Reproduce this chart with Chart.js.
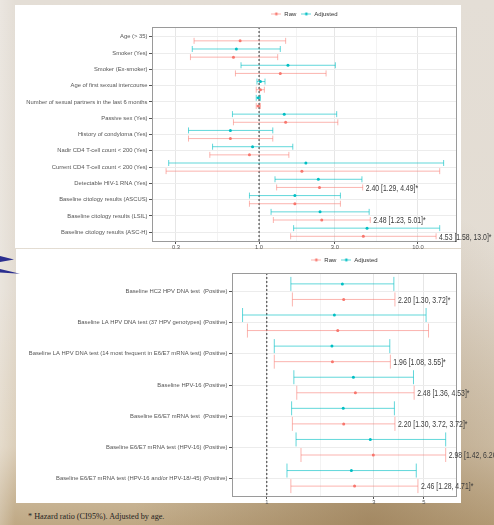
<!DOCTYPE html>
<html><head><meta charset="utf-8">
<script src="https://cdn.jsdelivr.net/npm/chart.js@4/dist/chart.umd.min.js"></script>
<style>
html,body{margin:0;padding:0;}
body{width:494px;height:525px;position:relative;overflow:hidden;
 background:
  radial-gradient(ellipse at 75% 100%, rgba(140,110,70,0.55), rgba(140,110,70,0) 45%),
  linear-gradient(90deg, rgba(255,255,255,0.25) 0px, rgba(255,255,255,0) 15px),
  linear-gradient(180deg, #e4ded6 0%, #e3dcd2 55%, #dccfba 85%, #bfa884 100%);}
.panel{position:absolute;background:#fff;}
#p1{left:15px;top:5px;width:446px;height:243px;}
#p2{left:16px;top:249px;width:445px;height:254px;}
.wrap{position:absolute;}
#w1{left:15px;top:6px;}
#w2{left:16px;top:252px;}
canvas{display:block;}
#foot{position:absolute;left:28px;top:512px;font:8.2px "Liberation Serif","Times New Roman",serif;color:#222;white-space:nowrap;}
.chev{position:absolute;background:#2b2f8f;}
#ch1{left:0;top:256px;width:14px;height:6px;clip-path:polygon(0 0,100% 60%,0 100%);}
#ch2{left:0;top:269px;width:20px;height:6px;clip-path:polygon(0 0,100% 80%,0 60%);}
</style></head>
<body>
<div class="panel" id="p1"></div>
<div class="panel" id="p2"></div>
<div class="chev" id="ch1"></div>
<div class="chev" id="ch2"></div>
<div class="wrap" id="w1"><canvas id="c1" width="479" height="246"></canvas></div>
<div class="wrap" id="w2"><canvas id="c2" width="478" height="254"></canvas></div>
<div id="foot">* Hazard ratio (CI95%). Adjusted by age.</div>
<script>
// ---------- data: top panel ----------
const topCategories = [
  'Age (> 35)',
  'Smoker (Yes)',
  'Smoker (Ex-smoker)',
  'Age of first sexual intercourse',
  'Number of sexual partners in the last 6 months',
  'Passive sex (Yes)',
  'History of condyloma (Yes)',
  'Nadir CD4 T-cell count < 200 (Yes)',
  'Current CD4 T-cell count < 200 (Yes)',
  'Detectable HIV-1 RNA (Yes)',
  'Baseline citology results (ASCUS)',
  'Baseline citology results (LSIL)',
  'Baseline citology results (ASC-H)'
];
const topRawEst  = [0.76, 0.69, 1.36, 1.02, 0.99, 1.47, 0.66, 0.87, 1.86, 2.40, 1.68, 2.48, 4.53];
const topRawLow  = [0.39, 0.37, 0.71, 0.96, 0.96, 0.69, 0.36, 0.49, 0.26, 1.29, 0.87, 1.23, 1.58];
const topRawHigh = [1.47, 1.31, 2.64, 1.08, 1.02, 3.13, 1.22, 1.54, 13.7, 4.49, 3.25, 5.01, 13.0];
const topAdjEst  = [null, 0.72, 1.52, 1.02, 0.99, 1.44, 0.66, 0.91, 1.97, 2.36, 1.68, 2.42, 4.78];
const topAdjLow  = [null, 0.38, 0.77, 0.97, 0.96, 0.68, 0.36, 0.51, 0.27, 1.26, 0.87, 1.19, 1.65];
const topAdjHigh = [null, 1.36, 3.02, 1.09, 1.02, 3.08, 1.22, 1.63, 14.5, 4.44, 3.25, 4.93, 13.7];
const topNotes = ['', '', '', '', '', '', '', '', '', '2.40 [1.29, 4.49]*', '', '2.48 [1.23, 5.01]*', '4.53 [1.58, 13.0]*'];
const topTickValues = [0.3, 1, 3, 10];
const topTickLabels = ['0.3', '1.0', '3.0', '10.0'];
const topMinorValues = [0.548, 1.732, 5.477];
const topRange = [0.212, 17.6];

// ---------- data: bottom panel ----------
const botCategories = [
  'Baseline HC2 HPV DNA test  (Positive)',
  'Baseline LA HPV DNA test (37 HPV genotypes) (Positive)',
  'Baseline LA HPV DNA test (14 most frequent in E6/E7 mRNA test) (Positive)',
  'Baseline HPV-16 (Positive)',
  'Baseline E6/E7 mRNA test  (Positive)',
  'Baseline E6/E7 mRNA test (HPV-16) (Positive)',
  'Baseline E6/E7 mRNA test (HPV-16 and/or HPV-18/-45) (Positive)'
];
const botRawEst  = [2.20, 2.07, 1.96, 2.48, 2.20, 2.98, 2.46];
const botRawLow  = [1.30, 0.82, 1.08, 1.36, 1.30, 1.42, 1.28];
const botRawHigh = [3.72, 5.25, 3.55, 4.53, 3.72, 6.26, 4.71];
const botAdjEst  = [2.17, 2.00, 1.95, 2.43, 2.19, 2.89, 2.38];
const botAdjLow  = [1.28, 0.78, 1.08, 1.32, 1.29, 1.35, 1.23];
const botAdjHigh = [3.68, 5.12, 3.53, 4.50, 3.70, 6.26, 4.63];
const botNotes = ['2.20 [1.30, 3.72]*', '', '1.96 [1.08, 3.55]*', '2.48 [1.36, 4.53]*', '2.20 [1.30, 3.72, 3.72]*', '2.98 [1.42, 6.26]*', '2.46 [1.28, 4.71]*'];
const botTickValues = [1, 3, 5];
const botTickLabels = ['1', '3', '5'];
const botMinorValues = [1.732, 3.873];
const botRange = [0.728, 7.03];

const refValue = 1;
const seriesNames = ['Raw', 'Adjusted'];

// ---------- styles ----------
const RED = '#F8766D', TEAL = '#00BFC4';
const RED_L = 'rgba(248,118,109,0.55)', TEAL_L = 'rgba(0,191,196,0.62)';
const OFF = 0.25;
Chart.defaults.font.family = '"Liberation Sans", Arial, sans-serif';
Chart.defaults.animation = false;

function legendIcon(lineCol, ptCol){
  const c = document.createElement('canvas'); c.width = 10; c.height = 5;
  const g = c.getContext('2d');
  g.strokeStyle = lineCol; g.lineWidth = 1;
  g.beginPath(); g.moveTo(0, 2.5); g.lineTo(10, 2.5); g.stroke();
  g.fillStyle = ptCol; g.beginPath(); g.arc(5, 2.5, 1.4, 0, Math.PI*2); g.fill();
  return c;
}
const icons = { 'Raw': legendIcon(RED_L, RED), 'Adjusted': legendIcon(TEAL_L, TEAL) };

function build(id, s){
  const n = s.cats.length;
  const ds = [];
  ds.push({label: seriesNames[0], data: s.rawEst.map((v,i)=>({x:v,y:i+OFF})),
    backgroundColor: RED, borderColor: RED, pointRadius: 1.5, pointBorderWidth: 0, showLine: false});
  ds.push({label: seriesNames[1], data: s.adjEst.map((v,i)=> v==null?null:({x:v,y:i-OFF})).filter(Boolean),
    backgroundColor: TEAL, borderColor: TEAL, pointRadius: 1.5, pointBorderWidth: 0, showLine: false});
  const addInt = (lo, hi, yy, col) => ds.push({label: '_int', data: [{x:lo,y:yy},{x:hi,y:yy}],
    showLine: true, borderColor: col, borderWidth: 1, pointStyle: 'line', pointRotation: 90,
    pointRadius: s.cap, pointBorderColor: col, pointBorderWidth: 1, backgroundColor: col});
  for (let i=0;i<n;i++){
    if (s.adjEst[i] != null) addInt(s.adjLow[i], s.adjHigh[i], i-OFF, TEAL_L);
    addInt(s.rawLow[i], s.rawHigh[i], i+OFF, RED_L);
  }
  ds.push({label: '_ref', data: [{x:refValue,y:-0.6},{x:refValue,y:n-0.4}], showLine: true,
    borderColor: '#333', borderWidth: 1, borderDash: [2,2], pointRadius: 0});

  const notesPlugin = {
    id: 'notes' + id,
    afterDatasetsDraw(chart){
      const {ctx, chartArea: a, scales:{x,y}} = chart;
      ctx.save();
      ctx.strokeStyle = '#9a9a9a'; ctx.lineWidth = 1;
      ctx.strokeRect(Math.round(a.left)+0.5, Math.round(a.top)+0.5, Math.round(a.right-a.left)-1, Math.round(a.bottom-a.top)-1);
      ctx.font = '8.2px "Liberation Sans", Arial, sans-serif';
      ctx.fillStyle = '#3a3a3a'; ctx.textBaseline = 'middle'; ctx.textAlign = 'left';
      s.notes.forEach((t,i)=>{ if(!t) return;
        ctx.save();
        ctx.translate(x.getPixelForValue(s.rawHigh[i]) + 3, y.getPixelForValue(i+OFF) + 1);
        ctx.scale(0.84, 1);
        ctx.fillText(t, 0, 0);
        ctx.restore();
      });
      ctx.restore();
    }
  };

  return new Chart(document.getElementById(id), {
    type: 'scatter',
    data: { datasets: ds },
    plugins: [notesPlugin],
    options: {
      responsive: false, animation: false, events: [],
      layout: { padding: { left: 0, right: s.padRight, top: 0, bottom: 0 } },
      plugins: {
        tooltip: { enabled: false },
        legend: {
          position: 'top', fullSize: false,
          labels: {
            usePointStyle: true, pointStyleWidth: 10, padding: 5, color: '#333',
            font: { size: 6 },
            generateLabels(chart){
              const items = Chart.defaults.plugins.legend.labels.generateLabels(chart);
              return items.filter(it => seriesNames.includes(it.text))
                .map(it => Object.assign(it, { pointStyle: icons[it.text] }));
            }
          }
        }
      },
      scales: {
        x: {
          type: 'logarithmic', min: s.range[0], max: s.range[1],
          afterBuildTicks(sc){
            sc.ticks = s.ticks.concat(s.minor).sort((a,b)=>a-b).map(v=>({value:v}));
          },
          afterFit(sc){ sc.height = s.xHeight; },
          ticks: { autoSkip: false, maxRotation: 0, padding: 0, color: '#555', font: { size: 5.8 },
            callback(v){ const k = s.ticks.indexOf(v); return k >= 0 ? s.tickLabels[k] : ''; } },
          grid: {
            color: c => (c.tick && s.ticks.includes(c.tick.value)) ? '#e6e6e6' : '#f3f3f3',
            tickColor: c => (c.tick && s.ticks.includes(c.tick.value)) ? '#555' : 'rgba(0,0,0,0)',
            tickLength: 2, lineWidth: 1
          },
          border: { display: false }
        },
        y: {
          type: 'linear', reverse: true, min: -0.6, max: n - 0.4,
          afterBuildTicks(sc){ sc.ticks = s.cats.map((_,i)=>({value:i})); },
          afterFit(sc){ sc.width = s.yWidth; },
          ticks: { autoSkip: false, padding: 1.5, color: '#555', font: { size: 5.85 },
            callback(v){ return s.cats[v] !== undefined ? s.cats[v] : ''; } },
          grid: { color: '#ececec', tickColor: '#555', tickLength: 3, lineWidth: 1 },
          border: { display: false }
        }
      }
    }
  });
}

build('c1', { cats: topCategories, rawEst: topRawEst, rawLow: topRawLow, rawHigh: topRawHigh,
  adjEst: topAdjEst, adjLow: topAdjLow, adjHigh: topAdjHigh, notes: topNotes,
  ticks: topTickValues, tickLabels: topTickLabels, minor: topMinorValues, range: topRange,
  yWidth: 137, xHeight: 10, padRight: 37, cap: 3 });

build('c2', { cats: botCategories, rawEst: botRawEst, rawLow: botRawLow, rawHigh: botRawHigh,
  adjEst: botAdjEst, adjLow: botAdjLow, adjHigh: botAdjHigh, notes: botNotes,
  ticks: botTickValues, tickLabels: botTickLabels, minor: botMinorValues, range: botRange,
  yWidth: 216, xHeight: 9, padRight: 37, cap: 7 });
</script>
</body></html>
